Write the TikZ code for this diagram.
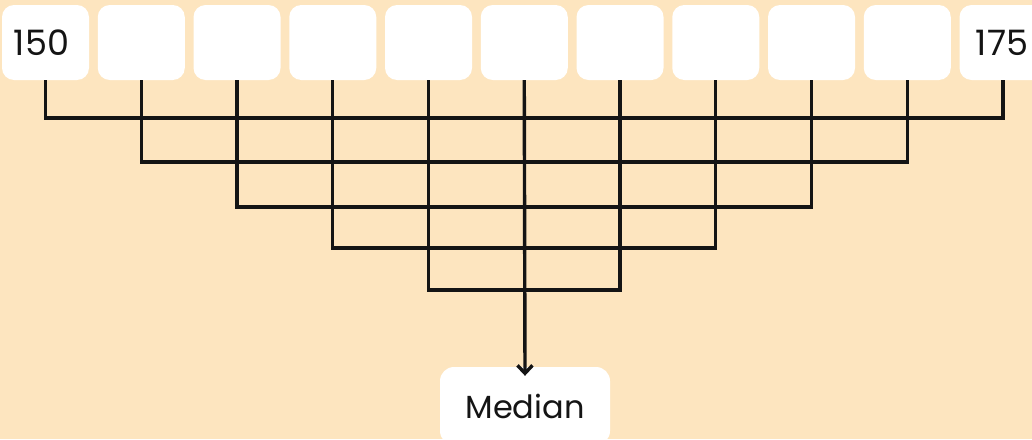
\documentclass[tikz,border=0pt]{standalone}
\usepackage{fontspec}
\setmainfont{Poppins}
\usetikzlibrary{arrows.meta}
\definecolor{bgpeach}{RGB}{253,229,191}
\definecolor{linecol}{RGB}{20,20,20}
\tikzset{
  cell/.style={fill=white, rounded corners=12pt, minimum width=87pt, minimum height=75pt, inner sep=0pt, font=\fontsize{35}{38}\selectfont, text=linecol},
  medbox/.style={fill=white, rounded corners=14pt, minimum width=170pt, minimum height=78pt, inner sep=0pt, font=\fontsize{32}{36}\selectfont, text=linecol},
  conn/.style={draw=linecol, line width=3.4pt, line join=miter},
}
\begin{document}
\begin{tikzpicture}[x=1pt, y=-1pt]
\useasboundingbox (0,0) rectangle (1032,439);
\clip (0,0) rectangle (1032,439);
\fill[bgpeach] (0,0) rectangle (1032,439);
\foreach \k in {1,...,11}{
  \pgfmathsetmacro{\xx}{45.5+95.75*(\k-1)}
  \node[cell] (b\k) at (\xx,42.5) {};
}
\node[font=\fontsize{35}{38}\selectfont, text=linecol, inner sep=0pt] (t1) at ([xshift=-4pt]b1.center) {150};
\node[font=\fontsize{35}{38}\selectfont, text=linecol, inner sep=0pt] (t11) at ([xshift=-1pt]b11.center) {175};
\node[medbox] (med) at (525,406) {Median};
\coordinate (l1) at (524,118);
\coordinate (l2) at (524,162);
\coordinate (l3) at (524,207);
\coordinate (l4) at (524,248);
\coordinate (l5) at (524,290);
\draw[conn] (b1.south) |- (l1) -| (b11.south);
\draw[conn] (b2.south) |- (l2) -| (b10.south);
\draw[conn] (b3.south) |- (l3) -| (b9.south);
\draw[conn] (b4.south) |- (l4) -| (b8.south);
\draw[conn] (b5.south) |- (l5) -| (b7.south);
\draw[conn, -{Straight Barb[length=8pt,width=15pt]}] (b6.south) -- ([yshift=-9pt]med.north);
\end{tikzpicture}
\end{document}
